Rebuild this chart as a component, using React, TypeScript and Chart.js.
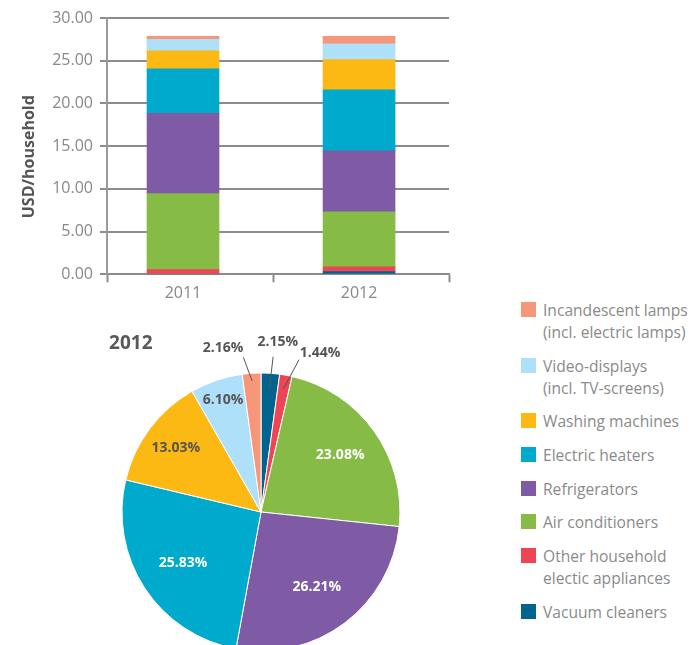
import React, { useEffect, useRef } from "react";
import { Chart, registerables } from "chart.js";

Chart.register(...registerables);

// ---------- data ----------
const years = ["2011", "2012"];
const seriesNames = [
  "Vacuum cleaners",
  "Other household electic appliances",
  "Air conditioners",
  "Refrigerators",
  "Electric heaters",
  "Washing machines",
  "Video-displays (incl. TV-screens)",
  "Incandescent lamps (incl. electric lamps)",
];
const vacuumCleaners = [0, 0.31];
const otherAppliances = [0.55, 0.55];
const airConditioners = [8.9, 6.44];
const refrigerators = [9.38, 7.15];
const electricHeaters = [5.23, 7.15];
const washingMachines = [2.11, 3.52];
const videoDisplays = [1.33, 1.87];
const incandescentLamps = [0.35, 0.86];
const pieShares2012 = [2.15, 1.44, 23.08, 26.21, 25.83, 13.03, 6.1, 2.16];
const yTickValues = [0, 5, 10, 15, 20, 25, 30];
const legendLines = [
  ["Incandescent lamps", "(incl. electric lamps)"],
  ["Video-displays", "(incl. TV-screens)"],
  ["Washing machines"],
  ["Electric heaters"],
  ["Refrigerators"],
  ["Air conditioners"],
  ["Other household", "electic appliances"],
  ["Vacuum cleaners"],
];
const pieTitle = "2012";
const yAxisTitle = "USD/household";

// ---------- styles ----------
const seriesColors = [
  "#00648F",
  "#EE4454",
  "#86BB46",
  "#7F5AA5",
  "#00AACC",
  "#FCB813",
  "#AEE0FA",
  "#F6977A",
];
const legendColors = [
  "#F6977A",
  "#AEE0FA",
  "#FCB813",
  "#00AACC",
  "#7F5AA5",
  "#86BB46",
  "#EE4454",
  "#00648F",
];
const FONT = "'Open Sans', 'Noto Sans', sans-serif";
const X_MIN = -0.4318;
const X_MAX = 1.511;
const X_MID = 0.515;

// pie label layout (style only)
const insideLabel: Record<number, { f: number; color: string }> = {
  2: { f: 0.7, color: "#ffffff" },
  3: { f: 0.67, color: "#ffffff" },
  4: { f: 0.67, color: "#ffffff" },
  5: { f: 0.765, color: "#555555" },
  6: { f: 0.85, color: "#555555" },
};
const outsideLabel: Record<
  number,
  { inner: number; outer: number; dAng: number; dx: number; dy: number }
> = {
  0: { inner: 0.89, outer: 1.12, dAng: 0.6, dx: 4.7, dy: -15 },
  1: { inner: 0.9, outer: 1.13, dAng: 3.7, dx: 21, dy: -7 },
  7: { inner: 0.945, outer: 1.12, dAng: -2.6, dx: -20.3, dy: -9.7 },
};

const seriesValues = [
  vacuumCleaners,
  otherAppliances,
  airConditioners,
  refrigerators,
  electricHeaters,
  washingMachines,
  videoDisplays,
  incandescentLamps,
];

function BarChart() {
  const ref = useRef<HTMLCanvasElement>(null);
  useEffect(() => {
    const titlePlugin = {
      id: "yTitle",
      afterDraw(chart: any) {
        const ctx = chart.ctx;
        ctx.save();
        ctx.translate(29.5, 156.7);
        ctx.rotate(-Math.PI / 2);
        ctx.font = `bold 16px ${FONT}`;
        ctx.fillStyle = "#555555";
        ctx.textAlign = "center";
        ctx.textBaseline = "middle";
        ctx.fillText(yAxisTitle, 0, 0);
        ctx.restore();
      },
    };
    const chart = new Chart(ref.current!, {
      type: "bar",
      data: {
        datasets: seriesValues.map((vals, i) => ({
          label: seriesNames[i],
          data: vals.map((v, j) => ({ x: j, y: v })),
          backgroundColor: seriesColors[i],
          borderWidth: 0,
          barThickness: 72,
          stack: "s",
        })) as any,
      },
      options: {
        animation: false,
        responsive: false,
        layout: { padding: { top: 18, right: 21, left: 0, bottom: 0 } },
        plugins: { legend: { display: false }, tooltip: { enabled: false } },
        scales: {
          x: {
            type: "linear",
            stacked: true,
            offset: false,
            min: X_MIN,
            max: X_MAX,
            afterBuildTicks: (s: any) => {
              s.ticks = [X_MIN, 0, X_MID, 1, X_MAX].map((v) => ({ value: v }));
            },
            afterFit: (s: any) => {
              s.height = 35.7;
            },
            ticks: {
              autoSkip: false,
              maxRotation: 0,
              padding: 2,
              color: "#888888",
              font: { family: FONT, size: 16 },
              callback: (v: any) =>
                Number.isInteger(v) ? years[v as number] : "",
            },
            grid: {
              offset: false,
              drawOnChartArea: false,
              drawTicks: true,
              tickLength: 8,
              tickWidth: 2,
              tickColor: (ctx: any) =>
                ctx.tick && Number.isInteger(ctx.tick.value)
                  ? "rgba(0,0,0,0)"
                  : "#8c8c8c",
            },
            border: { display: true, color: "#8c8c8c", width: 2 },
          },
          y: {
            stacked: true,
            min: 0,
            max: 30,
            afterBuildTicks: (s: any) => {
              s.ticks = yTickValues.map((v) => ({ value: v }));
            },
            afterFit: (s: any) => {
              s.width = 107;
            },
            ticks: {
              padding: 7,
              color: "#888888",
              font: { family: FONT, size: 16 },
              callback: (v: any) => Number(v).toFixed(2),
            },
            grid: {
              color: "#8c8c8c",
              lineWidth: 2,
              drawTicks: true,
              tickLength: 7,
            },
            border: { display: true, color: "#9a9a9a", width: 2 },
          },
        } as any,
      },
      plugins: [titlePlugin],
    });
    return () => chart.destroy();
  }, []);
  return (
    <canvas
      ref={ref}
      width={470}
      height={310}
      style={{ position: "absolute", left: 0, top: 0, width: 470, height: 310 }}
    />
  );
}

function PieChart() {
  const ref = useRef<HTMLCanvasElement>(null);
  useEffect(() => {
    const labelPlugin = {
      id: "pieLabels",
      afterDatasetsDraw(chart: any) {
        const ctx = chart.ctx;
        const meta = chart.getDatasetMeta(0);
        ctx.save();
        ctx.font = `bold 19px ${FONT}`;
        ctx.fillStyle = "#595959";
        ctx.textAlign = "center";
        ctx.textBaseline = "middle";
        ctx.fillText(pieTitle, 49.8, 11.8);
        ctx.font = `bold 14px ${FONT}`;
        meta.data.forEach((arc: any, i: number) => {
          const { x, y, startAngle, endAngle, outerRadius } = arc.getProps(
            ["x", "y", "startAngle", "endAngle", "outerRadius"],
            true
          );
          const mid = (startAngle + endAngle) / 2;
          const text = pieShares2012[i].toFixed(2) + "%";
          if (insideLabel[i]) {
            const { f, color } = insideLabel[i];
            ctx.fillStyle = color;
            ctx.fillText(
              text,
              x + Math.cos(mid) * f * outerRadius,
              y + Math.sin(mid) * f * outerRadius
            );
          } else if (outsideLabel[i]) {
            const o = outsideLabel[i];
            const a2 = mid + (o.dAng * Math.PI) / 180;
            const x1 = x + Math.cos(mid) * o.inner * outerRadius;
            const y1 = y + Math.sin(mid) * o.inner * outerRadius;
            const x2 = x + Math.cos(a2) * o.outer * outerRadius;
            const y2 = y + Math.sin(a2) * o.outer * outerRadius;
            ctx.strokeStyle = "#555555";
            ctx.lineWidth = 1;
            ctx.beginPath();
            ctx.moveTo(x1, y1);
            ctx.lineTo(x2, y2);
            ctx.stroke();
            ctx.fillStyle = "#555555";
            ctx.fillText(text, x2 + o.dx, y2 + o.dy);
          }
        });
        ctx.restore();
      },
    };
    const chart = new Chart(ref.current!, {
      type: "pie",
      data: {
        labels: seriesNames,
        datasets: [
          {
            data: pieShares2012,
            backgroundColor: seriesColors,
            borderColor: "#ffffff",
            borderWidth: 1,
          },
        ],
      },
      options: {
        animation: false,
        responsive: false,
        radius: 139,
        plugins: { legend: { display: false }, tooltip: { enabled: false } },
      } as any,
      plugins: [labelPlugin],
    });
    return () => chart.destroy();
  }, []);
  return (
    <canvas
      ref={ref}
      width={360}
      height={360}
      style={{ position: "absolute", left: 81, top: 332, width: 360, height: 360 }}
    />
  );
}

function Legend() {
  return (
    <div
      style={{
        position: "absolute",
        left: 521,
        top: 299,
        fontFamily: FONT,
        fontSize: 15.6,
        color: "#8a8a8a",
      }}
    >
      {legendLines.map((lines, i) => (
        <div
          key={i}
          style={{ display: "flex", alignItems: "flex-start", marginBottom: 11.7 }}
        >
          <div
            style={{
              width: 15,
              height: 15,
              marginTop: 3,
              marginRight: 7,
              background: legendColors[i],
              flex: "none",
            }}
          />
          <div style={{ lineHeight: "22px", whiteSpace: "nowrap" }}>
            {lines.map((l, k) => (
              <div key={k}>{l}</div>
            ))}
          </div>
        </div>
      ))}
    </div>
  );
}

export default function App() {
  return (
    <div
      style={{
        position: "fixed",
        left: 0,
        top: 0,
        width: 696,
        height: 645,
        overflow: "hidden",
        background: "#ffffff",
      }}
    >
      <BarChart />
      <PieChart />
      <Legend />
    </div>
  );
}
